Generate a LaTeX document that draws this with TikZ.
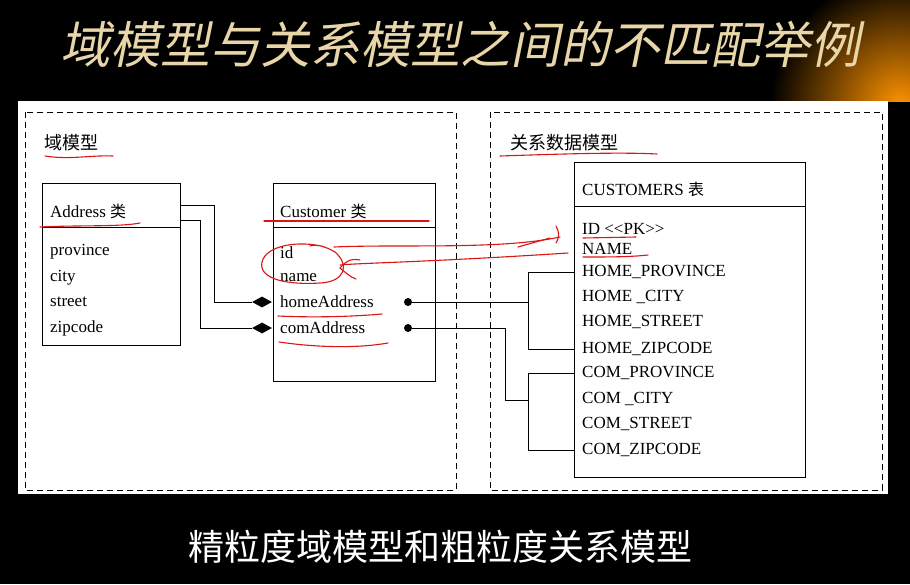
\documentclass[tikz,border=0pt]{standalone}
\usepackage{fontspec}
\setmainfont{Liberation Serif}
\newfontfamily\cjk{Noto Sans CJK SC}
\newfontfamily\cjkit{Noto Sans CJK SC}[FakeSlant=0.2]
\usetikzlibrary{shapes.geometric}
\definecolor{titlec}{RGB}{232,214,168}
\definecolor{pen}{RGB}{220,20,20}
\begin{document}
\begin{tikzpicture}[x=1pt,y=-1pt,
  attr/.style={anchor=west,inner sep=0,font=\fontsize{17}{17}\selectfont},
  col/.style={anchor=west,inner sep=0,font=\fontsize{17}{17}\selectfont},
  lbl/.style={anchor=west,inner sep=0,font=\cjk\fontsize{18}{18}\selectfont},
  box/.style={draw,line width=0.9pt},
  dia/.style={diamond,fill=black,inner sep=0,minimum width=20pt,minimum height=11pt},
  dot/.style={circle,fill=black,inner sep=0,minimum size=8pt},
  red/.style={draw=pen,line width=1.1pt,line cap=round},
  ln/.style={line width=0.9pt}]
\useasboundingbox (0,0) rectangle (910,584);
\fill[black] (0,0) rectangle (910,584);
\begin{scope}
\clip (0,0) rectangle (910,101);
\shade[inner color=orange!85!yellow,outer color=black] (900,105) circle (130);
\end{scope}
\node[font=\cjkit\fontsize{50}{50}\selectfont,text=titlec,anchor=west,inner sep=0] (title) at (60,44) {域模型与关系模型之间的不匹配举例};
\fill[white] (18,101) rectangle (888,494);
\draw[line width=0.9pt,dash pattern=on 6pt off 4pt] (25,112) rectangle (456,490);
\draw[line width=0.9pt,dash pattern=on 6pt off 4pt] (490,112) rectangle (882,490);
\node[lbl] (dm) at (44,143) {域模型};
\node[lbl] (rm) at (510,143) {关系数据模型};
% Address
\draw[box] (42,183) rectangle (180,345); \draw[ln] (42,227) -- (180,227);
\node[attr] (addr) at (50,211) {Address {\cjk\fontsize{16}{16}\selectfont 类}};
\node[attr] (a1) at (50,252) {province};
\node[attr] (a2) at (50,278) {city};
\node[attr] (a3) at (50,302) {street};
\node[attr] (a4) at (50,328) {zipcode};
% Customer
\draw[box] (273,183) rectangle (435,381); \draw[ln] (273,227) -- (435,227);
\node[attr] (cust) at (280,211) {Customer {\cjk\fontsize{16}{16}\selectfont 类}};
\node[attr] (cid) at (280,253) {id};
\node[attr] (cname) at (280,278) {name};
\node[attr] (home) at (280,302) {homeAddress};
\node[attr] (com) at (280,328) {comAddress};
% CUSTOMERS
\draw[box] (574,162) rectangle (805,477); \draw[ln] (574,206) -- (805,206);
\node[col] (tbl) at (582,189) {CUSTOMERS {\cjk\fontsize{16}{16}\selectfont 表}};
\node[col] (tid) at (582,229) {ID <{}<PK>{}>};
\node[col] (tname) at (582,249) {NAME};
\node[col] (hp) at (582,272) {HOME\_PROVINCE};
\node[col] (hc) at (582,297) {HOME \_CITY};
\node[col] (hs) at (582,322) {HOME\_STREET};
\node[col] (hz) at (582,349) {HOME\_ZIPCODE};
\node[col] (cp) at (582,373) {COM\_PROVINCE};
\node[col] (cc) at (582,399) {COM \_CITY};
\node[col] (cs) at (582,424) {COM\_STREET};
\node[col] (cz) at (582,450) {COM\_ZIPCODE};
% connectors
\node[dia] (d1) at (262,302) {};
\node[dia] (d2) at (262,328) {};
\coordinate (ar1) at (180,205); \coordinate (ar2) at (180,220);
\draw[ln] (ar1) -- (214,205) -- (214,302) -- (d1);
\draw[ln] (ar2) -- (200,220) -- (200,328) -- (d2);
\node[dot] (p1) at (408,302) {};
\node[dot] (p2) at (408,328) {};
\draw[ln] (p1) -- (528,302);
\draw[ln] (574,272) -- (528,272) -- (528,349) -- (574,349);
\draw[ln] (p2) -- (505,328) -- (505,400) -- (528,400);
\draw[ln] (574,373) -- (528,373) -- (528,450) -- (574,450);
% red marks
\draw[red] (45,156) .. controls (70,160) and (90,155) .. (113,156);
\draw[red] (500,156) .. controls (560,154) and (620,152) .. (657,154);
\draw[red] (40,227) .. controls (80,225) and (120,227) .. (140,223);
\draw[red] (264,221) -- (429,221);
\draw[red] (325,247) .. controls (300,240) and (266,245) .. (262,262) .. controls (258,280) and (290,285) .. (320,283) .. controls (345,282) and (350,265) .. (335,252) .. controls (325,246) and (315,244) .. (310,246);
\draw[red] (334,247) .. controls (400,244) and (500,250) .. (560,237);
\draw[red] (518,247) -- (550,238);
\draw[red] (556,226) .. controls (559,232) and (560,236) .. (556,243);
\draw[red] (340,265) .. controls (360,263) and (430,262) .. (568,253);
\draw[red] (340,268) .. controls (345,262) and (350,258) .. (360,260);
\draw[red] (340,268) .. controls (345,272) and (350,277) .. (356,279);
\draw[red] (278,316) .. controls (320,318) and (360,316) .. (382,314);
\draw[red] (279,342) .. controls (320,348) and (360,348) .. (388,343);
\draw[red] (583,238) -- (636,237);
\draw[red] (583,257) .. controls (610,257) and (630,257) .. (648,255);
\node[font=\cjk\fontsize{36}{36}\selectfont,text=white] (sub) at (440,547) {精粒度域模型和粗粒度关系模型};
\end{tikzpicture}
\end{document}
